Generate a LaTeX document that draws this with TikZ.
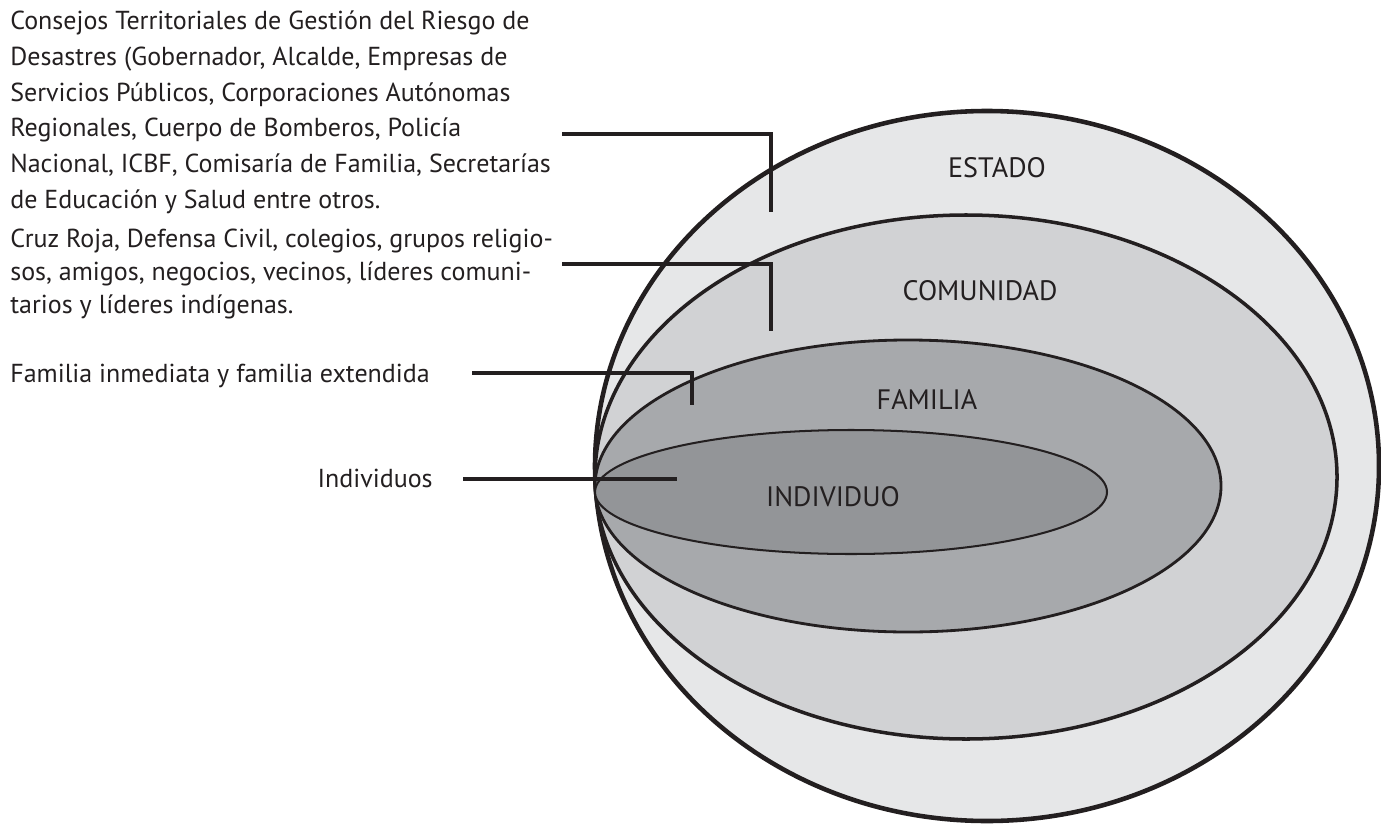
\documentclass[tikz,border=0pt]{standalone}
\usepackage{fontspec}
\setmainfont{PT Sans}
\usetikzlibrary{positioning}
\definecolor{estadoc}{HTML}{E6E7E8}
\definecolor{comunc}{HTML}{D1D2D4}
\definecolor{familc}{HTML}{A7A9AC}
\definecolor{indivc}{HTML}{939598}
\definecolor{ink}{HTML}{231F20}
\begin{document}
\begin{tikzpicture}[x=0.02cm, y=-0.02cm]

        % Setup the styles
        \tikzset{ring/.style={draw=ink},
                 lead/.style={draw=ink, line width=2pt},
                 side text/.style={inner sep=0pt, align=left, text=ink,
                                   font=\fontsize{14.8}{20.3}\selectfont},
                 ring text/.style={inner sep=0pt, text=ink,
                                   font=\fontsize{16}{18}\selectfont}}

        \useasboundingbox (0,0) rectangle (1381,824);

        % Draw the nested ellipses
        \draw[ring, fill=estadoc, line width=2.6pt] (987,466) ellipse [x radius=392, y radius=355];
        \draw[ring, fill=comunc, line width=2pt] (966,477) ellipse [x radius=371, y radius=262];
        \draw[ring, fill=familc, line width=1.6pt] (908,486) ellipse [x radius=313, y radius=146];
        \draw[ring, fill=indivc, line width=1.15pt] (851,492) ellipse [x radius=256, y radius=62];

        % Ring labels
        \node[ring text] at (997,168) (estado)    {ESTADO};
        \node[ring text] at (980,291) (comunidad) {COMUNIDAD};
        \node[ring text] at (927,400) (familia)   {FAMILIA};
        \node[ring text] at (833,497) (individuo) {INDIVIDUO};

        % Side texts (base = last line)
        \node[side text, anchor=base west] at (10,208) (consejos)
            {Consejos Territoriales de Gestión del Riesgo de\\
             Desastres (Gobernador, Alcalde, Empresas de\\
             Servicios Públicos, Corporaciones Autónomas\\
             Regionales, Cuerpo de Bomberos, Policía\\
             Nacional, ICBF, Comisaría de Familia, Secretarías\\
             de Educación y Salud entre otros.};
        \node[side text, anchor=base west, font=\fontsize{14.8}{18.5}\selectfont] at (10,313) (cruz)
            {Cruz Roja, Defensa Civil, colegios, grupos religio-\\
             sos, amigos, negocios, vecinos, líderes comuni-\\
             tarios y líderes indígenas.};
        \node[side text, anchor=base west] at (10,382) (inmediata)
            {Familia inmediata y familia extendida};
        \node[side text, anchor=base east] at (433,487) (individuos)
            {Individuos};

        % Leader lines
        \coordinate (c1) at (562,134);  \coordinate (e1) at (771,212);
        \coordinate (c2) at (562,264);  \coordinate (e2) at (771,331);
        \coordinate (c3) at (472,373);  \coordinate (e3) at (692,405);
        \coordinate (c4) at (463,479);  \coordinate (e4) at (677,479);
        \draw[lead] (c1) -| (e1);
        \draw[lead] (c2) -| (e2);
        \draw[lead] (c3) -| (e3);
        \draw[lead] (c4) -- (e4);

    \end{tikzpicture}
\end{document}
